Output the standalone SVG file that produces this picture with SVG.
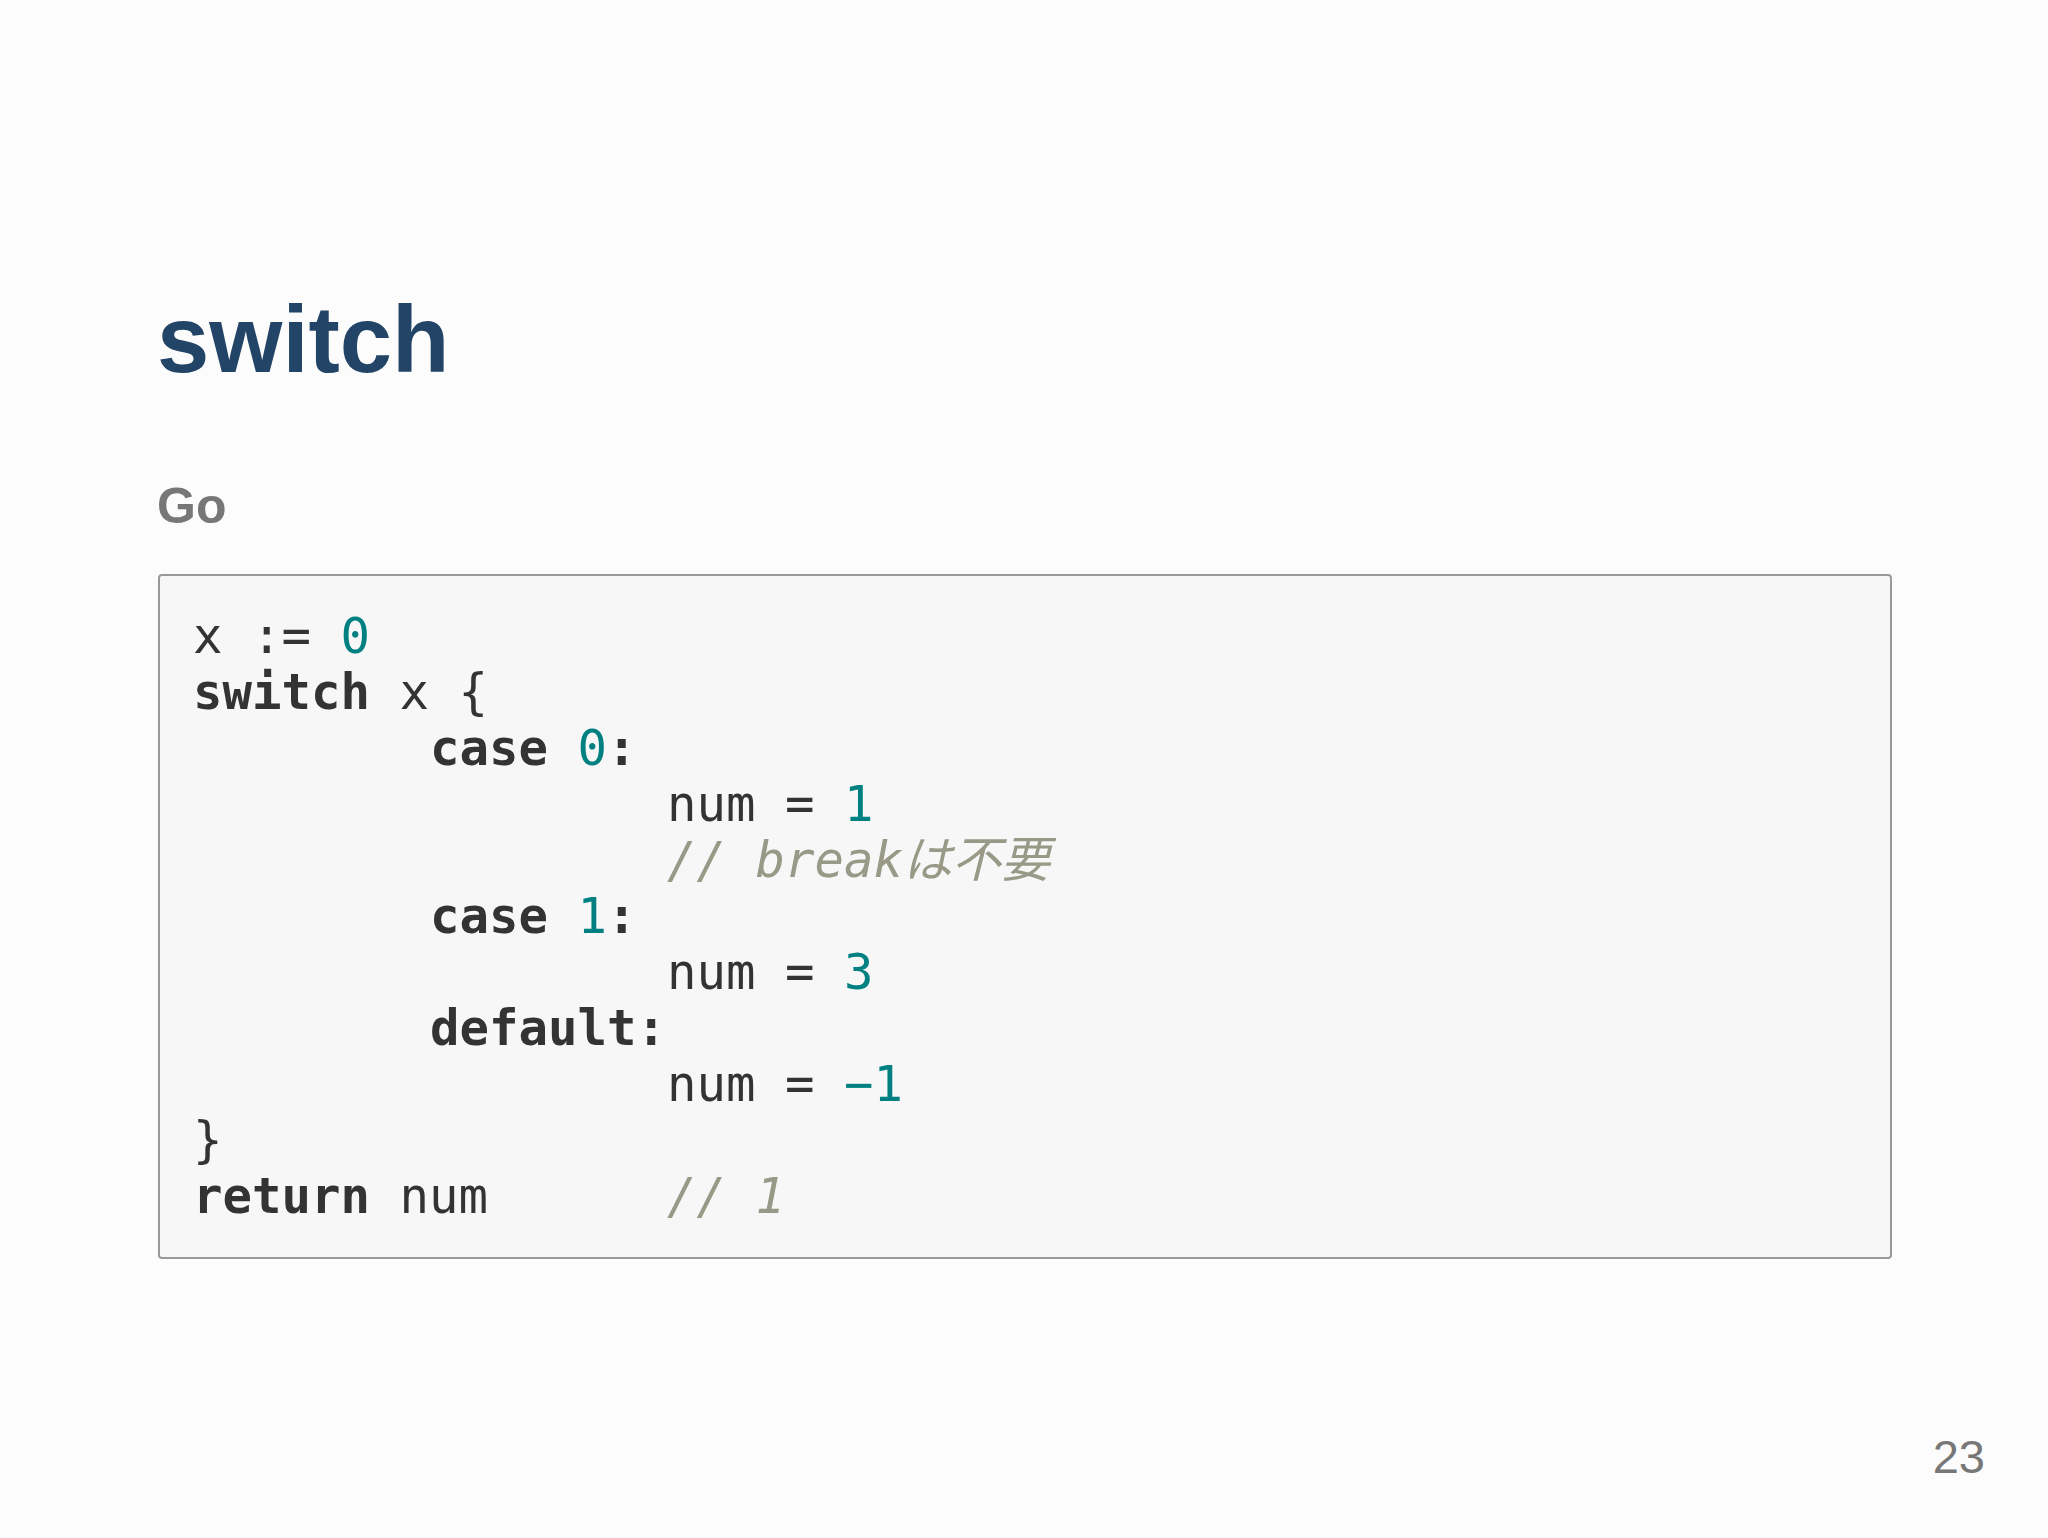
<svg xmlns="http://www.w3.org/2000/svg" width="2048" height="1538" viewBox="0 0 2048 1538">
<style>
.code{font-family:"DejaVu Sans Mono","Noto Sans CJK JP",monospace;font-size:49px;fill:#333}
.kw{font-weight:bold}
.num{fill:#008080}
.cm{fill:#998;font-style:italic}
</style>
<rect width="2048" height="1538" fill="#fcfcfc"/>
<g id="title"><text x="157" y="372" font-family="Liberation Sans,Arial,sans-serif" font-weight="bold" font-size="94" fill="#224466">switch</text></g>
<g id="subtitle"><text x="157" y="523" font-family="Liberation Sans,Arial,sans-serif" font-weight="bold" font-size="50" fill="#777">Go</text></g>
<g id="codebox">
<rect x="159" y="575" width="1732" height="683" rx="3" fill="#f7f7f8" stroke="#999" stroke-width="2"/>
<text class="code" xml:space="preserve">
<tspan x="193" y="653">x := <tspan class="num">0</tspan></tspan>
<tspan x="193" y="709"><tspan class="kw">switch</tspan> x {</tspan>
<tspan x="430" y="765"><tspan class="kw">case</tspan> <tspan class="num">0</tspan><tspan class="kw">:</tspan></tspan>
<tspan x="667" y="821">num = <tspan class="num">1</tspan></tspan>
<tspan x="667" y="877" class="cm">// breakは不要</tspan>
<tspan x="430" y="933"><tspan class="kw">case</tspan> <tspan class="num">1</tspan><tspan class="kw">:</tspan></tspan>
<tspan x="667" y="989">num = <tspan class="num">3</tspan></tspan>
<tspan x="430" y="1045" class="kw">default:</tspan>
<tspan x="667" y="1101">num = <tspan class="num">−1</tspan></tspan>
<tspan x="193" y="1157">}</tspan>
<tspan x="193" y="1213"><tspan class="kw">return</tspan> num</tspan>
<tspan x="667" y="1213" class="cm">// 1</tspan>
</text>
</g>
<g id="pagenum"><text x="1985" y="1473" text-anchor="end" font-family="Liberation Sans,Arial,sans-serif" font-size="47" fill="#777">23</text></g>
</svg>
